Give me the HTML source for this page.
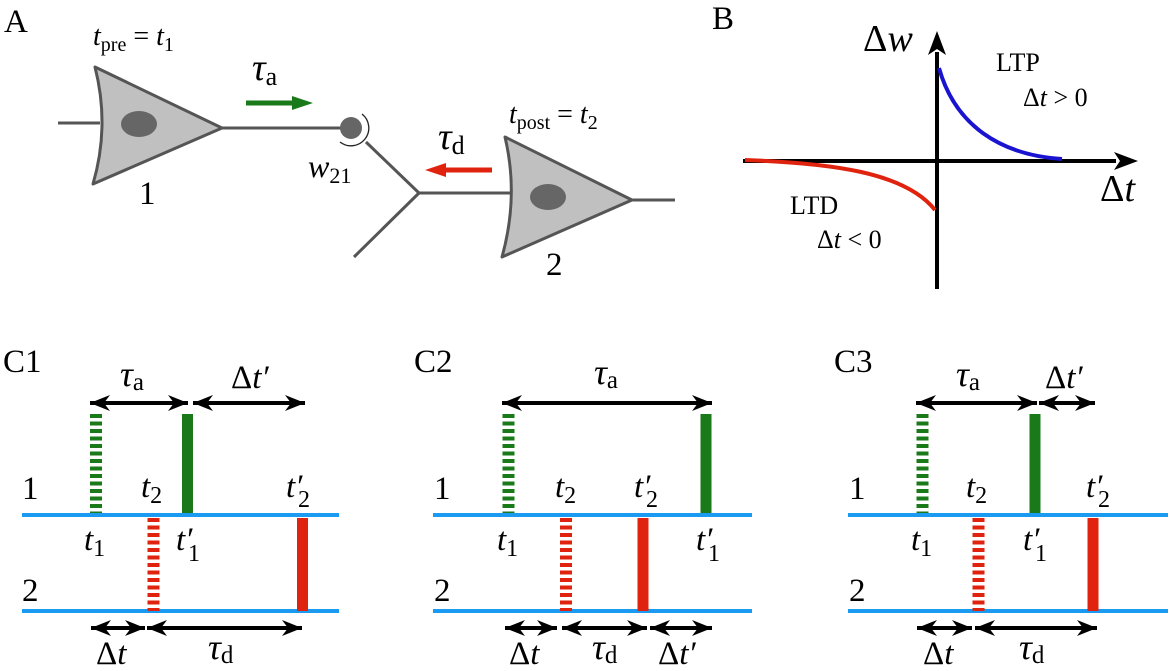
<!DOCTYPE html>
<html><head><meta charset="utf-8"><style>
html,body{margin:0;padding:0;background:#fff;}
svg{display:block;}
text{font-family:"Liberation Serif",serif;fill:#000;}
.i{font-style:italic;}
</style></head><body>
<svg width="1170" height="671" viewBox="0 0 1170 671" xmlns="http://www.w3.org/2000/svg">
<defs>
<marker id="ah" markerUnits="userSpaceOnUse" markerWidth="22" markerHeight="16" refX="20" refY="8" orient="auto-start-reverse" viewBox="0 0 20 16">
<path d="M0,0 L20,8 L0,16 L6,8 z" fill="#000"/>
</marker>
<marker id="ax" markerUnits="userSpaceOnUse" markerWidth="24" markerHeight="18" refX="2" refY="9" orient="auto" viewBox="0 0 24 18">
<path d="M0,0 L24,9 L0,18 L6,9 z" fill="#000"/>
</marker>
</defs>

<!-- Panel A -->
<text x="4" y="32" font-size="33">A</text>
<text x="93" y="45" font-size="28"><tspan class="i">t</tspan><tspan font-size="20" dy="6">pre</tspan><tspan dy="-6"> = </tspan><tspan class="i">t</tspan><tspan font-size="20" dy="6">1</tspan></text>
<line x1="58" y1="123" x2="100" y2="123" stroke="#555" stroke-width="3"/>
<path d="M95,67 L222,128 L93,184 Q110,126 95,67 z" fill="#c0c0c0" stroke="#555" stroke-width="3" stroke-linejoin="round"/>
<ellipse cx="139" cy="124" rx="18" ry="13" fill="#666"/>
<line x1="222" y1="128" x2="345" y2="128" stroke="#555" stroke-width="3"/>
<circle cx="351" cy="128" r="11" fill="#666"/>
<path d="M362,114 A17,17 0 0,1 340,142" fill="none" stroke="#222" stroke-width="1.3"/>
<line x1="366" y1="142" x2="419" y2="193" stroke="#555" stroke-width="3"/>
<line x1="419" y1="193" x2="354" y2="257" stroke="#555" stroke-width="3"/>
<line x1="419" y1="193" x2="510" y2="193" stroke="#555" stroke-width="3"/>
<path d="M505,137 L632,200 L502,257 Q519,196 505,137 z" fill="#c0c0c0" stroke="#555" stroke-width="3" stroke-linejoin="round"/>
<ellipse cx="548" cy="197" rx="18" ry="13" fill="#666"/>
<line x1="632" y1="200" x2="675" y2="200" stroke="#555" stroke-width="3"/>
<line x1="246" y1="103" x2="294" y2="103" stroke="#1a7a1a" stroke-width="5"/>
<path d="M292,96 L313,103 L292,110 z" fill="#1a7a1a"/>
<line x1="492" y1="170" x2="444" y2="170" stroke="#e0230e" stroke-width="5"/>
<path d="M446,163 L425,170 L446,177 z" fill="#e0230e"/>
<text x="252" y="80" font-size="38"><tspan class="i">τ</tspan><tspan font-size="26" dy="5">a</tspan></text>
<text x="438" y="149" font-size="38"><tspan class="i">τ</tspan><tspan font-size="26" dy="5">d</tspan></text>
<text x="308" y="177" font-size="32"><tspan class="i">w</tspan><tspan font-size="22" dy="6">21</tspan></text>
<text x="139" y="204" font-size="33">1</text>
<text x="546" y="275" font-size="33">2</text>
<text x="509" y="123" font-size="28"><tspan class="i">t</tspan><tspan font-size="20" dy="6">post</tspan><tspan dy="-6"> = </tspan><tspan class="i">t</tspan><tspan font-size="20" dy="6">2</tspan></text>

<!-- Panel B -->
<text x="712" y="29" font-size="33">B</text>
<line x1="743" y1="161" x2="1116" y2="161" stroke="#000" stroke-width="4" marker-end="url(#ax)"/>
<line x1="937" y1="289" x2="937" y2="52" stroke="#000" stroke-width="4"/>
<path d="M928,55 L937,31 L946,55 L937,49 z" fill="#000"/>
<path d="M939,68 C955,125 1000,155 1062,159" fill="none" stroke="#1a14d0" stroke-width="4"/>
<path d="M745,160 C830,163 905,172 935,210" fill="none" stroke="#e0230e" stroke-width="4"/>
<text x="863" y="51" font-size="38">Δ<tspan class="i">w</tspan></text>
<text x="996" y="71" font-size="26">LTP</text>
<text x="1023" y="106" font-size="26">Δ<tspan class="i">t</tspan> &gt; 0</text>
<text x="1100" y="201" font-size="38">Δ<tspan class="i">t</tspan></text>
<text x="790" y="214" font-size="26">LTD</text>
<text x="817" y="248" font-size="26">Δ<tspan class="i">t</tspan> &lt; 0</text>

<g stroke-width="4">
<!-- C1 -->
<line x1="22" y1="515" x2="339" y2="515" stroke="#1a9af0" stroke-width="4"/>
<line x1="22" y1="611" x2="339" y2="611" stroke="#1a9af0" stroke-width="4"/>
<line x1="96" y1="414" x2="96" y2="513" stroke="#1a7a1a" stroke-width="12" stroke-dasharray="4,3.5"/>
<line x1="187.5" y1="414" x2="187.5" y2="513" stroke="#1a7a1a" stroke-width="11"/>
<line x1="153.5" y1="518" x2="153.5" y2="611" stroke="#e0230e" stroke-width="12" stroke-dasharray="4,3.5"/>
<line x1="302.5" y1="518" x2="302.5" y2="611" stroke="#e0230e" stroke-width="11"/>
<line x1="90" y1="403" x2="188" y2="403" stroke="#000" marker-start="url(#ah)" marker-end="url(#ah)"/>
<line x1="193" y1="403" x2="305" y2="403" stroke="#000" marker-start="url(#ah)" marker-end="url(#ah)"/>
<line x1="91" y1="628" x2="145" y2="628" stroke="#000" marker-start="url(#ah)" marker-end="url(#ah)"/>
<line x1="147" y1="628" x2="302" y2="628" stroke="#000" marker-start="url(#ah)" marker-end="url(#ah)"/>

<!-- C2 -->
<line x1="433" y1="515" x2="752" y2="515" stroke="#1a9af0" stroke-width="4"/>
<line x1="433" y1="611" x2="752" y2="611" stroke="#1a9af0" stroke-width="4"/>
<line x1="508.5" y1="414" x2="508.5" y2="513" stroke="#1a7a1a" stroke-width="12" stroke-dasharray="4,3.5"/>
<line x1="706" y1="414" x2="706" y2="513" stroke="#1a7a1a" stroke-width="11"/>
<line x1="566" y1="518" x2="566" y2="611" stroke="#e0230e" stroke-width="12" stroke-dasharray="4,3.5"/>
<line x1="643" y1="518" x2="643" y2="611" stroke="#e0230e" stroke-width="11"/>
<line x1="502" y1="403" x2="712" y2="403" stroke="#000" marker-start="url(#ah)" marker-end="url(#ah)"/>
<line x1="505" y1="628" x2="557" y2="628" stroke="#000" marker-start="url(#ah)" marker-end="url(#ah)"/>
<line x1="562" y1="628" x2="647" y2="628" stroke="#000" marker-start="url(#ah)" marker-end="url(#ah)"/>
<line x1="650" y1="628" x2="712" y2="628" stroke="#000" marker-start="url(#ah)" marker-end="url(#ah)"/>

<!-- C3 -->
<line x1="848" y1="515" x2="1168" y2="515" stroke="#1a9af0" stroke-width="4"/>
<line x1="848" y1="611" x2="1168" y2="611" stroke="#1a9af0" stroke-width="4"/>
<line x1="922.5" y1="414" x2="922.5" y2="513" stroke="#1a7a1a" stroke-width="12" stroke-dasharray="4,3.5"/>
<line x1="1035" y1="414" x2="1035" y2="513" stroke="#1a7a1a" stroke-width="11"/>
<line x1="978.5" y1="518" x2="978.5" y2="611" stroke="#e0230e" stroke-width="12" stroke-dasharray="4,3.5"/>
<line x1="1093" y1="518" x2="1093" y2="611" stroke="#e0230e" stroke-width="11"/>
<line x1="916" y1="403" x2="1037" y2="403" stroke="#000" marker-start="url(#ah)" marker-end="url(#ah)"/>
<line x1="1039" y1="403" x2="1095" y2="403" stroke="#000" marker-start="url(#ah)" marker-end="url(#ah)"/>
<line x1="917" y1="628" x2="972" y2="628" stroke="#000" marker-start="url(#ah)" marker-end="url(#ah)"/>
<line x1="975" y1="628" x2="1097" y2="628" stroke="#000" marker-start="url(#ah)" marker-end="url(#ah)"/>
</g>

<!-- C labels -->
<g font-size="33">
<text x="3" y="372">C1</text>
<text x="120" y="386" font-size="36"><tspan class="i">τ</tspan><tspan font-size="25" dy="4">a</tspan></text>
<text x="231" y="388">Δ<tspan class="i">t′</tspan></text>
<text x="22" y="499">1</text>
<text x="141" y="497"><tspan class="i">t</tspan><tspan font-size="24" dy="6">2</tspan></text>
<text x="286" y="497"><tspan class="i">t′</tspan></text><text x="298" y="507" font-size="24">2</text>
<text x="84" y="550"><tspan class="i">t</tspan><tspan font-size="24" dy="6">1</tspan></text>
<text x="176" y="550"><tspan class="i">t′</tspan></text><text x="188" y="561" font-size="24">1</text>
<text x="22" y="601">2</text>
<text x="96" y="664">Δ<tspan class="i">t</tspan></text>
<text x="208" y="659" font-size="36"><tspan class="i">τ</tspan><tspan font-size="25" dy="4">d</tspan></text>

<text x="414" y="372">C2</text>
<text x="594" y="384" font-size="36"><tspan class="i">τ</tspan><tspan font-size="25" dy="4">a</tspan></text>
<text x="434" y="499">1</text>
<text x="555" y="497"><tspan class="i">t</tspan><tspan font-size="24" dy="6">2</tspan></text>
<text x="634" y="497"><tspan class="i">t′</tspan></text><text x="646" y="507" font-size="24">2</text>
<text x="497" y="550"><tspan class="i">t</tspan><tspan font-size="24" dy="6">1</tspan></text>
<text x="696" y="550"><tspan class="i">t′</tspan></text><text x="708" y="561" font-size="24">1</text>
<text x="434" y="601">2</text>
<text x="509" y="664">Δ<tspan class="i">t</tspan></text>
<text x="592" y="659" font-size="36"><tspan class="i">τ</tspan><tspan font-size="25" dy="4">d</tspan></text>
<text x="658" y="664">Δ<tspan class="i">t′</tspan></text>

<text x="834" y="372">C3</text>
<text x="956" y="386" font-size="36"><tspan class="i">τ</tspan><tspan font-size="25" dy="4">a</tspan></text>
<text x="1045" y="388">Δ<tspan class="i">t′</tspan></text>
<text x="849" y="499">1</text>
<text x="966" y="497"><tspan class="i">t</tspan><tspan font-size="24" dy="6">2</tspan></text>
<text x="1086" y="497"><tspan class="i">t′</tspan></text><text x="1098" y="507" font-size="24">2</text>
<text x="911" y="550"><tspan class="i">t</tspan><tspan font-size="24" dy="6">1</tspan></text>
<text x="1023" y="550"><tspan class="i">t′</tspan></text><text x="1035" y="561" font-size="24">1</text>
<text x="849" y="601">2</text>
<text x="923" y="664">Δ<tspan class="i">t</tspan></text>
<text x="1019" y="659" font-size="36"><tspan class="i">τ</tspan><tspan font-size="25" dy="4">d</tspan></text>
</g>
</svg>
</body></html>
